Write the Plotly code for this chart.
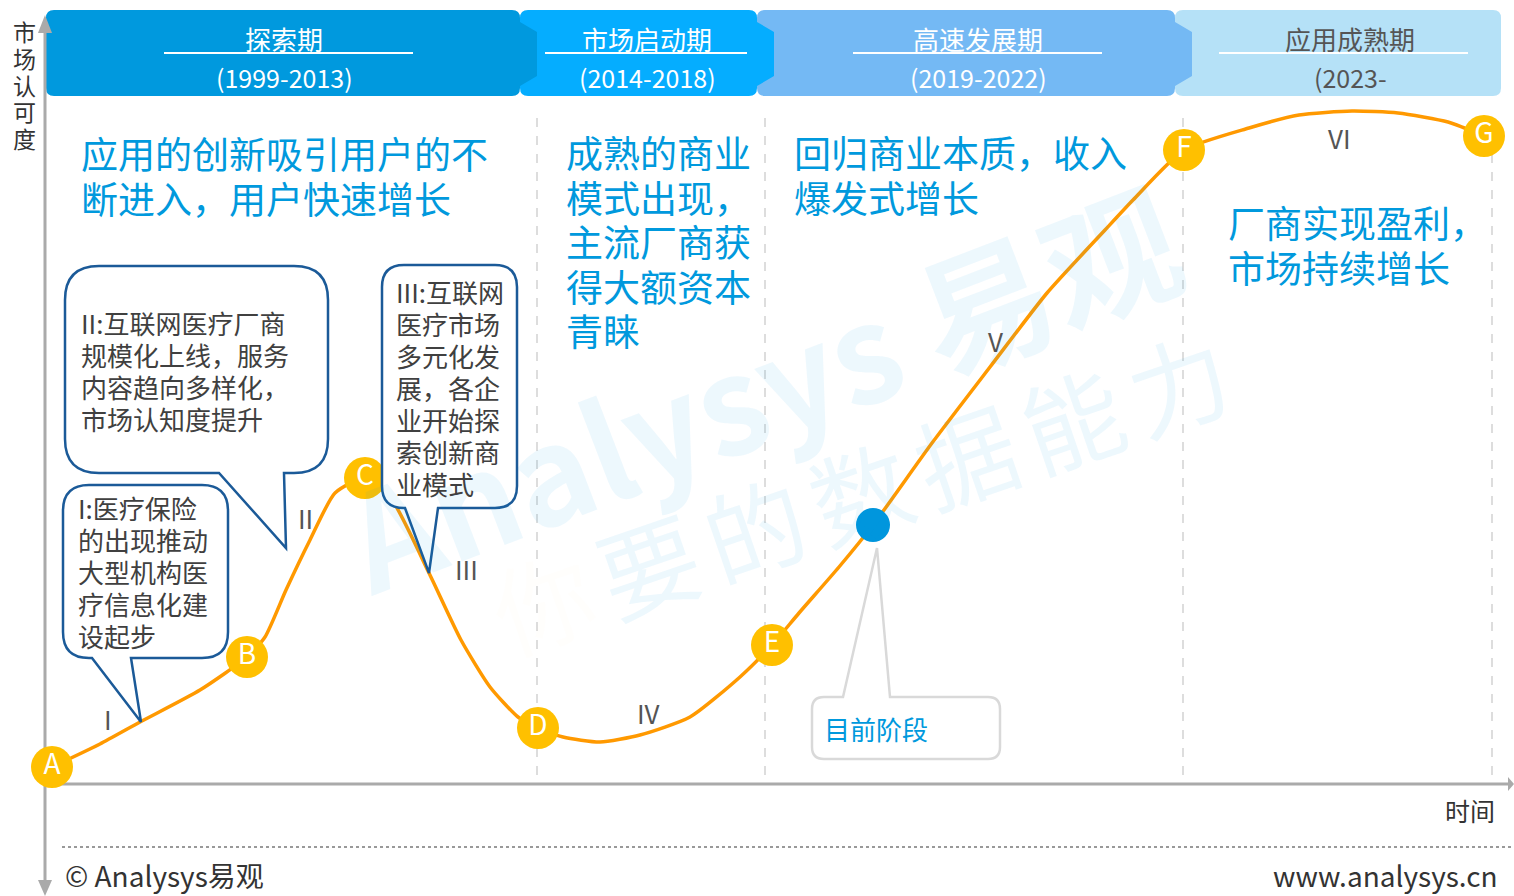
import plotly.graph_objects as go

W, H = 1514, 896
FONT = "Noto Sans CJK SC"

# ---------------- data (screen-space units: x = time, y = awareness, top = high) ----------------
curve_x = [52, 100, 140, 200, 247, 265, 286, 310, 335, 365, 392, 429, 461, 490, 518, 538, 563, 600,
           640, 690, 740, 772, 799, 839, 873, 932, 990, 1047, 1105, 1133, 1184, 1249, 1299, 1352, 1398, 1448, 1484]
curve_y = [767, 744, 722, 690, 657, 637, 590, 540, 493, 478, 500, 573, 640, 687, 717, 728, 737, 742,
           735, 717, 677, 645, 613, 567, 525, 443, 367, 293, 230, 200, 150, 128, 115, 111, 113, 122, 136]

stage_labels = ["A", "B", "C", "D", "E", "F", "G"]
stage_x = [52, 247, 365, 538, 772, 1184, 1484]
stage_y = [767, 657, 478, 728, 645, 150, 136]

current_x = [873]
current_y = [525]

phase_names = ["探索期", "市场启动期", "高速发展期", "应用成熟期"]
phase_years = ["(1999-2013)", "(2014-2018)", "(2019-2022)", "(2023-"]
phase_left = [46, 520, 757, 1175]
phase_right = [520, 757, 1175, 1501]
phase_text_x = [284, 647, 978, 1350]
phase_line = [(164, 413), (545, 747), (853, 1102), (1219, 1468)]
phase_colors = ["#0099DE", "#05ADFF", "#74B9F4", "#B5E1F7"]
phase_text_colors = ["#FFFFFF", "#FFFFFF", "#FFFFFF", "#555555"]
divider_x = [537, 765, 1183, 1492]

roman = ["I", "II", "III", "IV", "V", "VI"]
roman_x = [108, 305, 466, 648, 995, 1339]
roman_y = [718, 517, 568, 712, 340, 137]

blue_x = [79, 564, 792, 1226]
blue_y0 = [153, 152, 152, 222]
blue_lines = [
    ["应用的创新吸引用户的不", "断进入，用户快速增长"],
    ["成熟的商业", "模式出现，", "主流厂商获", "得大额资本", "青睐"],
    ["回归商业本质，收入", "爆发式增长"],
    ["厂商实现盈利，", "市场持续增长"],
]

callout_lines = [
    ["II:互联网医疗厂商", "规模化上线，服务", "内容趋向多样化，", "市场认知度提升"],
    ["I:医疗保险", "的出现推动", "大型机构医", "疗信息化建", "设起步"],
    ["III:互联网", "医疗市场", "多元化发", "展，各企", "业开始探", "索创新商", "业模式"],
]
callout_text_x = [79, 76, 394]
callout_text_y0 = [322, 507, 291]
# box: x0, y0, x1, y1, radius, tail (base_left, tip_x, tip_y, base_right)
callout_boxes = [
    (65, 266, 328, 473, 34, (219, 286, 548, 284)),
    (63, 485, 228, 658, 26, (92, 141, 722, 131)),
    (382, 265, 517, 508, 22, (405, 429, 573, 438)),
]
now_box = (812, 697, 1000, 759, 12, (843, 877, 548, 890))
now_text = "目前阶段"

yaxis_title = list("市场认可度")
xaxis_title = "时间"


# ---------------- helpers ----------------
def band_path(x0, x1, arrow, y0=10, y1=96, r=8):
    p = f"M {x0+r},{y0} L {x1-r},{y0} Q {x1},{y0} {x1},{y0+r} "
    if arrow:
        p += f"L {x1},22 L {x1+17},32 L {x1+17},76 L {x1},86 "
    p += f"L {x1},{y1-r} Q {x1},{y1} {x1-r},{y1} L {x0+r},{y1} Q {x0},{y1} {x0},{y1-r} L {x0},{y0+r} Q {x0},{y0} {x0+r},{y0} Z"
    return p


def callout_path(x0, y0, x1, y1, r, tail, side="bottom"):
    bl, tx, ty, br = tail
    if side == "bottom":
        p = (f"M {x0+r},{y0} L {x1-r},{y0} Q {x1},{y0} {x1},{y0+r} L {x1},{y1-r} Q {x1},{y1} {x1-r},{y1} "
             f"L {br},{y1} L {tx},{ty} L {bl},{y1} L {x0+r},{y1} Q {x0},{y1} {x0},{y1-r} "
             f"L {x0},{y0+r} Q {x0},{y0} {x0+r},{y0} Z")
    else:
        p = (f"M {x0+r},{y0} L {bl},{y0} L {tx},{ty} L {br},{y0} L {x1-r},{y0} Q {x1},{y0} {x1},{y0+r} "
             f"L {x1},{y1-r} Q {x1},{y1} {x1-r},{y1} L {x0+r},{y1} Q {x0},{y1} {x0},{y1-r} "
             f"L {x0},{y0+r} Q {x0},{y0} {x0+r},{y0} Z")
    return p


def multiline(lines, x, y_first, pitch, glyph, color, xanchor="left", align="left"):
    """One annotation for several lines: pitch set by base font, glyph size by span."""
    n = len(lines)
    base = pitch / 1.3
    txt = "<br>".join(f"<span style='font-size:{glyph}px'>{ln}</span>" for ln in lines)
    yc = y_first + pitch * (n - 1) / 2.0
    return dict(x=x, y=yc, text=txt, showarrow=False, align=align,
                font=dict(family=FONT, size=base, color=color),
                xanchor=xanchor, yanchor="middle")


fig = go.Figure()

fig.add_trace(go.Scatter(x=curve_x, y=curve_y, mode="lines",
                         line=dict(color="#FF9900", width=3.5, shape="spline", smoothing=0.6),
                         hoverinfo="skip"))
fig.add_trace(go.Scatter(x=stage_x, y=stage_y, mode="markers+text", text=stage_labels,
                         textposition="middle center",
                         marker=dict(size=42, color="#FFC000", line=dict(width=0)),
                         textfont=dict(color="white", size=28, family=FONT), hoverinfo="skip"))
fig.add_trace(go.Scatter(x=current_x, y=current_y, mode="markers",
                         marker=dict(size=34, color="#0096DD", line=dict(width=0)), hoverinfo="skip"))

shapes = []
annotations = []

# watermark (drawn first, very faint)
annotations.append(dict(x=760, y=385, text="<b>Analysys 易观</b>", showarrow=False, textangle=-21,
                        font=dict(family=FONT, size=134, color="rgba(0,150,220,0.07)"),
                        xanchor="center", yanchor="middle"))
annotations.append(dict(x=865, y=487,
                        text="<span style='letter-spacing:12px'><span style='color:rgba(255,130,30,0.16)'>你</span>要的数据能力</span>",
                        showarrow=False, textangle=-19,
                        font=dict(family=FONT, size=100, color="rgba(0,150,220,0.07)"),
                        xanchor="center", yanchor="middle"))

# header bands (rightmost first so left arrows overlay)
for i in reversed(range(len(phase_names))):
    shapes.append(dict(type="path", path=band_path(phase_left[i], phase_right[i], i < 3),
                       fillcolor=phase_colors[i], line=dict(width=0), layer="below",
                       xref="x", yref="y"))
for i in range(len(phase_names)):
    a, b = phase_line[i]
    shapes.append(dict(type="line", x0=a, x1=b, y0=53, y1=53, line=dict(color="white", width=2),
                       layer="below", xref="x", yref="y"))
    annotations.append(dict(x=phase_text_x[i], y=38, text=phase_names[i], showarrow=False,
                            font=dict(family=FONT, size=26, color=phase_text_colors[i]),
                            xanchor="center", yanchor="middle"))
    annotations.append(dict(x=phase_text_x[i], y=77, text=phase_years[i], showarrow=False,
                            font=dict(family=FONT, size=25, color=phase_text_colors[i]),
                            xanchor="center", yanchor="middle"))

# dividers
for dx in divider_x:
    shapes.append(dict(type="line", x0=dx, x1=dx, y0=118, y1=780,
                       line=dict(color="#BBBBBB", width=1, dash="dash"), layer="below"))

# axes
ax_col = "#AAAAAA"
shapes.append(dict(type="line", x0=45, x1=45, y0=28, y1=884, line=dict(color=ax_col, width=3), layer="below"))
shapes.append(dict(type="path", path="M 45,15 L 38,33 L 52,33 Z", fillcolor=ax_col, line=dict(width=0), layer="below"))
shapes.append(dict(type="path", path="M 45,896 L 38,880 L 52,880 Z", fillcolor=ax_col, line=dict(width=0), layer="below"))
shapes.append(dict(type="line", x0=45, x1=1508, y0=784, y1=784, line=dict(color=ax_col, width=3), layer="below"))
shapes.append(dict(type="path", path="M 1514,784 L 1508,777 L 1508,791 Z", fillcolor=ax_col, line=dict(width=0), layer="below"))
shapes.append(dict(type="line", x0=62, x1=1512, y0=847, y1=847, line=dict(color="#999999", width=2, dash="dot"), layer="below"))

# callouts
for box in callout_boxes:
    x0, y0, x1, y1, r, tail = box
    shapes.append(dict(type="path", path=callout_path(x0, y0, x1, y1, r, tail, "bottom"),
                       fillcolor="white", line=dict(color="#1B5A98", width=2.5), layer="above"))
x0, y0, x1, y1, r, tail = now_box
shapes.append(dict(type="path", path=callout_path(x0, y0, x1, y1, r, tail, "top"),
                   fillcolor="white", line=dict(color="#D9D9D9", width=2.5), layer="above"))

for lines, tx, ty0 in zip(callout_lines, callout_text_x, callout_text_y0):
    annotations.append(multiline(lines, tx, ty0, 32, 26, "#404040"))
annotations.append(dict(x=822, y=728, text=now_text, showarrow=False,
                        font=dict(family=FONT, size=26, color="#0099DD"),
                        xanchor="left", yanchor="middle"))

# blue phase descriptions
for lines, tx, ty0 in zip(blue_lines, blue_x, blue_y0):
    annotations.append(multiline(lines, tx, ty0, 44.5, 37, "#0099DD"))

# roman numerals
for t, rx, ry in zip(roman, roman_x, roman_y):
    annotations.append(dict(x=rx, y=ry, text=t, showarrow=False,
                            font=dict(family=FONT, size=26, color="#555555"),
                            xanchor="center", yanchor="middle"))

# axis titles
annotations.append(multiline(yaxis_title, 24, 31, 26.75, 23, "#333333", xanchor="center", align="center"))
annotations.append(dict(x=1497, y=810, text=xaxis_title, showarrow=False,
                        font=dict(family=FONT, size=25, color="#333333"),
                        xanchor="right", yanchor="middle"))

# footer
annotations.append(dict(x=63, y=875, text="© Analysys易观", showarrow=False,
                        font=dict(family=FONT, size=28, color="#333333"),
                        xanchor="left", yanchor="middle"))
annotations.append(dict(x=1500, y=875, text="www.analysys.cn", showarrow=False,
                        font=dict(family=FONT, size=28, color="#333333"),
                        xanchor="right", yanchor="middle"))

fig.update_layout(
    width=W, height=H, margin=dict(l=0, r=0, t=0, b=0),
    paper_bgcolor="white", plot_bgcolor="white", showlegend=False,
    xaxis=dict(range=[0, W], visible=False, fixedrange=True),
    yaxis=dict(range=[H, 0], visible=False, fixedrange=True),
    shapes=shapes, annotations=annotations,
)

fig.write_html("out.html", config={"displayModeBar": False},
               post_script="document.body.style.margin='0';document.body.style.overflow='hidden';")
